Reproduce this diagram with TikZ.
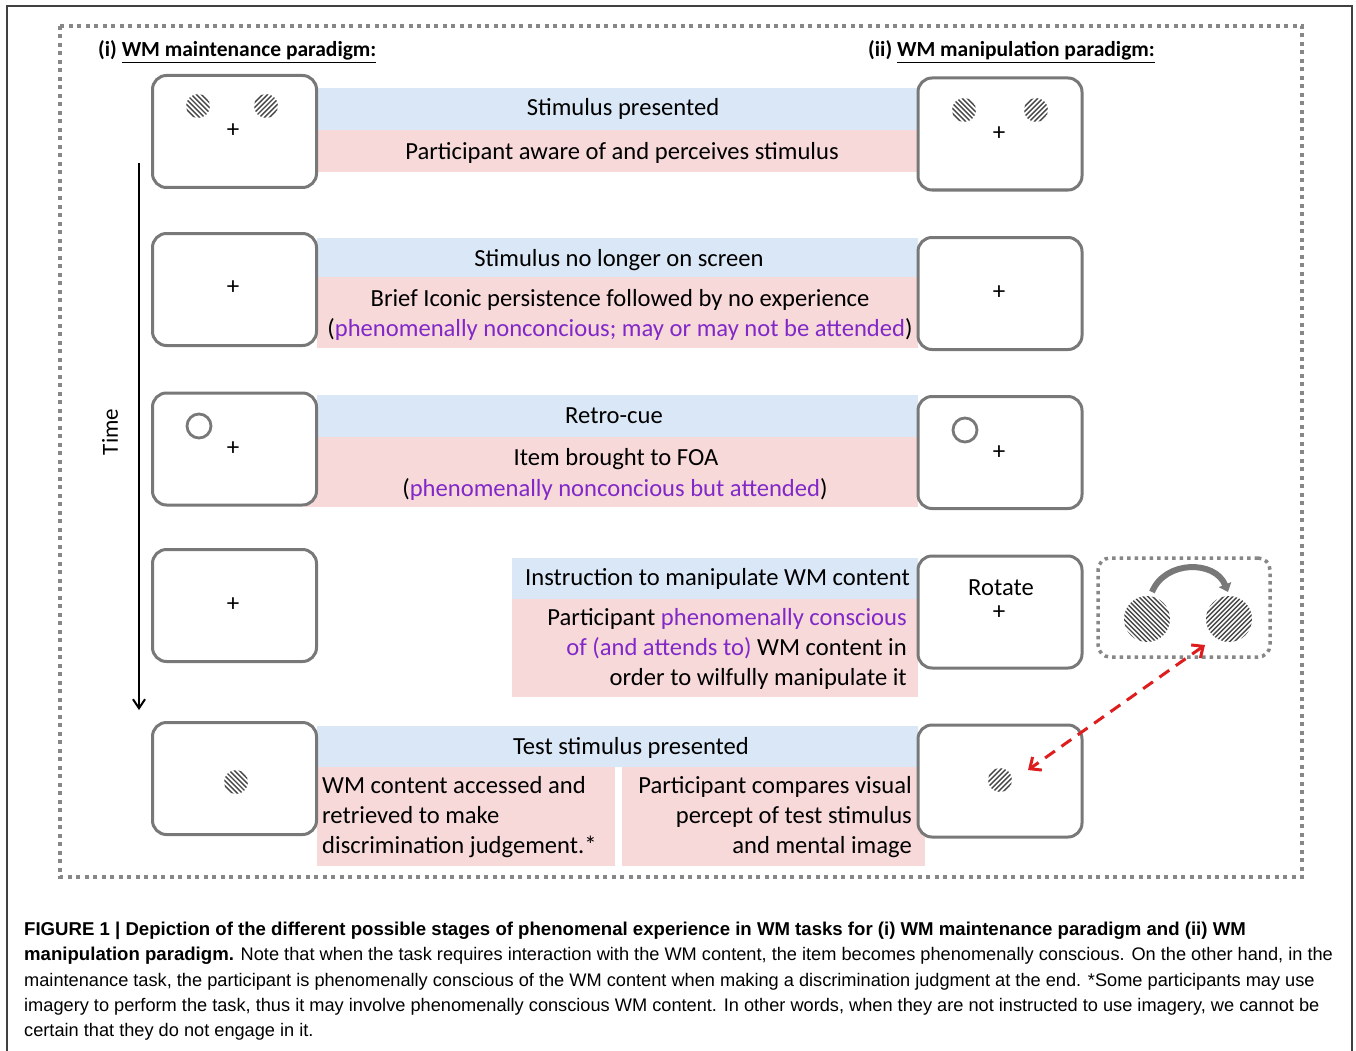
\documentclass[tikz,border=0pt]{standalone}
\usepackage{fontspec}
\setmainfont{Carlito}
\newfontfamily\capfont{Liberation Sans}
\usetikzlibrary{arrows.meta}
\definecolor{bandblue}{RGB}{218,231,246}
\definecolor{bandpink}{RGB}{248,217,217}
\definecolor{purp}{RGB}{128,40,200}
\definecolor{scrgray}{RGB}{120,120,120}
\definecolor{dotgray}{RGB}{135,135,135}
\definecolor{hatchcol}{RGB}{70,70,70}
\definecolor{redarrow}{RGB}{222,30,30}
\newcommand\hatchdisc[5]{%
  \begin{scope}[shift={(#1,#2)}]
    \clip (0,0) circle (#3);
    \begin{scope}[rotate=#4]
      \foreach \k in {-12,...,12} \draw[hatchcol, line width=1.4pt] ({\k*#5},{-#3-3}) -- ({\k*#5},{#3+3});
    \end{scope}
  \end{scope}}
\newcommand\capbold[1]{{\bfseries\fontsize{18.6}{22}\selectfont #1}}
\tikzset{
  screen/.style={draw=scrgray, line width=3pt, rounded corners=14pt, fill=white,
    minimum width=164pt, minimum height=112pt, inner sep=0pt},
  txt/.style={font=\fontsize{24.6}{30}\selectfont, inner sep=0pt, anchor=base},
  txtl/.style={txt, anchor=base west},
  txtr/.style={txt, anchor=base east},
  hdr/.style={font=\fontsize{21.5}{25}\selectfont\bfseries, inner sep=0pt, anchor=base west},
  plus/.style={font=\fontsize{25}{28}\selectfont, inner sep=0pt},
  captxt/.style={font=\capfont\fontsize{18.2}{22}\selectfont, inner sep=0pt, anchor=base west},
  ring/.style={draw=scrgray, line width=2.8pt, circle, minimum size=24pt, inner sep=0pt},
}
\begin{document}
\begin{tikzpicture}[x=1pt,y=-1pt]
\useasboundingbox (0,0) rectangle (1356,1051);
\fill[white] (0,0) rectangle (1356,1051);
% outer frame
\draw[black!75, line width=1.5pt] (7,1051) -- (7,6) -- (1352,6) -- (1352,1051);
% dotted frame
\draw[dotgray, line width=4pt, dash pattern=on 4pt off 4.5pt] (60,26) rectangle (1302,877);

% headers
\node[hdr] (h1) at (98,57) {(i) \underline{WM maintenance paradigm:}};
\node[hdr] (h2) at (868,57) {(ii) \underline{WM manipulation paradigm:}};

% bands
\fill[bandblue] (317,88) rectangle (918,130);
\fill[bandpink] (317,130) rectangle (918,172);
\fill[bandblue] (317,238) rectangle (918,277);
\fill[bandpink] (317,277) rectangle (918,348);
\fill[bandblue] (317,395) rectangle (918,437);
\fill[bandpink] (305,437) rectangle (918,507);
\fill[bandblue] (512,558) rectangle (918,599);
\fill[bandpink] (512,599) rectangle (918,697);
\fill[bandblue] (317,726) rectangle (918,767);
\fill[bandpink] (317,767) rectangle (615,866);
\fill[bandpink] (622,767) rectangle (925,866);

% screens left
\node[screen] (L1) at (234.5,131.5) {};
\node[screen] (L2) at (234.5,289.5) {};
\node[screen] (L3) at (234.5,449) {};
\node[screen] (L4) at (234.5,605.5) {};
\node[screen] (L5) at (234.5,778.5) {};
% screens right
\node[screen] (R1) at (1000,134) {};
\node[screen] (R2) at (1000,293.5) {};
\node[screen] (R3) at (1000,452.5) {};
\node[screen] (R4) at (1000,612) {};
\node[screen] (R5) at (1000,781) {};

% screen contents
\hatchdisc{198}{106}{12}{45}{3.5}
\hatchdisc{266}{106}{12}{-45}{3.5}
\node[plus] (p1) at (233,131) {+};
\hatchdisc{964}{110}{12}{45}{3.5}
\hatchdisc{1036}{110}{12}{-45}{3.5}
\node[plus] (p2) at (999,134) {+};
\node[plus] (p3) at (233,288) {+};
\node[plus] (p4) at (999,293) {+};
\node[ring] (c1) at (199,426) {};
\node[plus] (p5) at (233,449) {+};
\node[ring] (c2) at (965,430) {};
\node[plus] (p6) at (999,453) {+};
\node[plus] (p7) at (233,605) {+};
\node[txt, anchor=center] (rot) at (1001,588) {Rotate};
\node[plus] (p8) at (999,613) {+};
\hatchdisc{236}{782}{12}{45}{3.5}
\hatchdisc{1000}{780}{12}{-45}{3.5}

% band texts
\node[txt] (t1a) at (623,116) {Stimulus presented};
\node[txt] (t1b) at (622,160) {Participant aware of and perceives stimulus};
\node[txt] (t2a) at (619,266) {Stimulus no longer on screen};
\node[txt] (t2b) at (620,306) {Brief Iconic persistence followed by no experience};
\node[txt] (t2c) at (620,336) {(\textcolor{purp}{phenomenally nonconcious; may or may not be attended})};
\node[txt] (t3a) at (614,423) {Retro-cue};
\node[txt] (t3b) at (616,465) {Item brought to FOA};
\node[txt] (t3c) at (615,496) {(\textcolor{purp}{phenomenally nonconcious but attended})};
\node[txtr] (t4a) at (910,585) {Instruction to manipulate WM content};
\node[txtr] (t4b) at (907,625) {Participant \textcolor{purp}{phenomenally conscious}};
\node[txtr] (t4c) at (907,655) {\textcolor{purp}{of (and attends to)} WM content in};
\node[txtr] (t4d) at (907,685) {order to wilfully manipulate it};
\node[txt] (t5a) at (631,754) {Test stimulus presented};
\node[txtl] (t5b) at (322,793) {WM content accessed and};
\node[txtl] (t5c) at (322,823) {retrieved to make};
\node[txtl] (t5d) at (322,853) {discrimination judgement.*};
\node[txtr] (t5e) at (912,793) {Participant compares visual};
\node[txtr] (t5f) at (912,823) {percept of test stimulus};
\node[txtr] (t5g) at (912,853) {and mental image};

% time arrow
\coordinate (tTop) at (139,163);
\coordinate (tBot) at (139,710);
\draw[black, line width=2pt, -{Straight Barb[length=9pt,width=12pt,line width=2pt]}] (tTop) -- (tBot);
\node[txt, font=\fontsize{23}{27}\selectfont, anchor=center, rotate=90] (time) at (110,432) {Time};

% rotation panel
\node[draw=dotgray, line width=3.5pt, dash pattern=on 3.5pt off 4pt, rounded corners=12pt,
  minimum width=172pt, minimum height=99pt, inner sep=0pt] (rotpanel) at (1184,607.5) {};
\hatchdisc{1147}{619}{23}{45}{3.3}
\hatchdisc{1229}{619}{23}{-45}{3.3}
\coordinate (arcL) at (1152,592);
\coordinate (arcR) at (1228,592);
\draw[scrgray, line width=6pt, -{Triangle[length=8pt,width=13pt]}] (arcL) .. controls (1165,560) and (1215,560) .. (arcR);

% red dashed double arrow
\coordinate (redA) at (1205,645);
\coordinate (redB) at (1028,770);
\draw[redarrow, line width=3pt, dash pattern=on 12pt off 8pt,
  {Straight Barb[length=9pt,width=16pt,line width=3pt]}-{Straight Barb[length=9pt,width=16pt,line width=3pt]}] (redA) -- (redB);

% caption
\node[captxt] (cap1) at (24,935) {\capbold{FIGURE 1 | Depiction of the different possible stages of phenomenal experience in WM tasks for (i) WM maintenance paradigm and (ii) WM}};
\node[captxt] (cap2) at (24,960) {\capbold{manipulation paradigm.} Note that when the task requires interaction with the WM content, the item becomes phenomenally conscious. On the other hand, in the};
\node[captxt] (cap3) at (24,986) {maintenance task, the participant is phenomenally conscious of the WM content when making a discrimination judgment at the end. *Some participants may use};
\node[captxt] (cap4) at (24,1011) {imagery to perform the task, thus it may involve phenomenally conscious WM content. In other words, when they are not instructed to use imagery, we cannot be};
\node[captxt] (cap5) at (24,1036) {certain that they do not engage in it.};
\end{tikzpicture}
\end{document}
